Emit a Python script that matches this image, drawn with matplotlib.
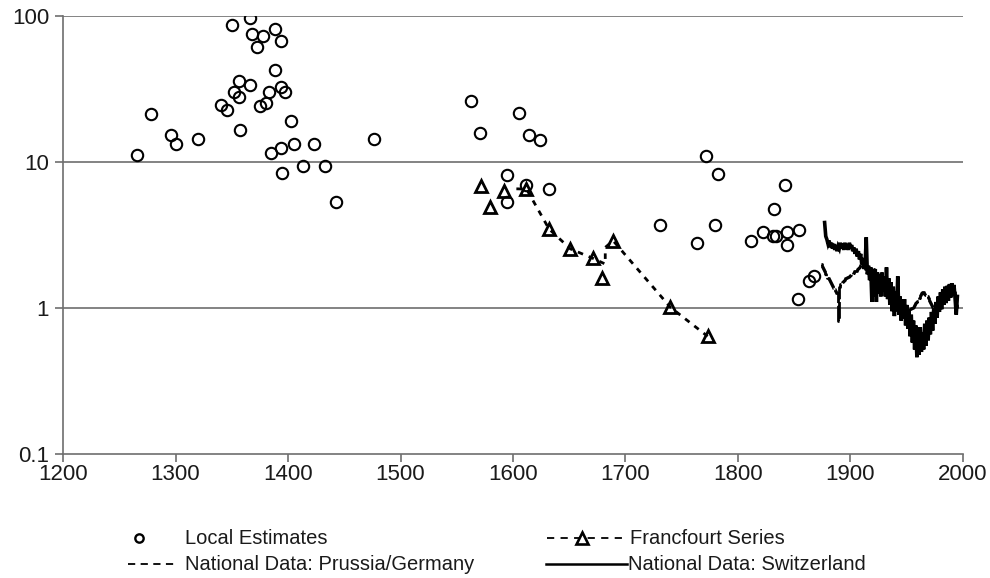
import numpy as np
import matplotlib
matplotlib.use("Agg")
import matplotlib.pyplot as plt
from matplotlib.lines import Line2D

plt.rcParams['font.family'] = ['Liberation Sans', 'DejaVu Sans']

# ---------------- data ----------------
local_years = [1266, 1278, 1296, 1300, 1320, 1340, 1346, 1350, 1352, 1356, 1356, 1357,
               1366, 1366, 1368, 1372, 1375, 1378, 1380, 1383, 1385, 1388, 1388, 1394,
               1394, 1394, 1395, 1397, 1403, 1405, 1413, 1423, 1433, 1443, 1476,
               1563, 1571, 1595, 1595, 1605, 1612, 1614, 1624, 1632,
               1731, 1764, 1772, 1780, 1782, 1812, 1822, 1831, 1832, 1834, 1842,
               1844, 1844, 1853, 1854, 1863, 1868]
local_values = [11.2, 21.3, 15.4, 13.3, 14.4, 24.6, 22.8, 87, 30.3, 36, 28, 16.6,
                97, 33.5, 75.6, 61, 24.3, 73, 25.4, 30.3, 11.6, 81, 43, 67,
                32.5, 12.4, 8.45, 30.3, 19.1, 13.3, 9.4, 13.3, 9.4, 5.3, 14.3,
                26, 15.9, 8.1, 5.3, 21.8, 6.95, 15.3, 14.2, 6.56,
                3.72, 2.8, 11.0, 3.72, 8.3, 2.89, 3.32, 3.13, 4.76, 3.1, 6.95,
                3.33, 2.7, 1.15, 3.44, 1.54, 1.66]

frank_years = [1572, 1580, 1592, 1612, 1632, 1651, 1671, 1679, 1689, 1740, 1773]
frank_values = [6.82, 4.94, 6.3, 6.53, 3.48, 2.54, 2.19, 1.6, 2.89, 1.01, 0.64]

frank_line_years = [1603, 1612, 1632, 1651, 1671, 1682, 1682, 1689, 1740, 1773]
frank_line_values = [6.55, 6.53, 3.48, 2.54, 2.19, 2.0, 2.6, 2.89, 1.01, 0.64]

swiss_years = list(range(1877, 1996))
swiss_values = [3.85, 3.1, 2.95, 2.75, 2.9, 2.6, 2.8, 2.55, 2.75, 2.5,
                2.7, 2.45, 2.65, 2.55, 2.8, 2.55, 2.75, 2.5, 2.8, 2.55,
                2.7, 2.5, 2.8, 2.55, 2.7, 2.45, 2.6, 2.35, 2.55, 2.25,
                2.45, 2.15, 2.35, 2.0, 2.2, 1.85, 2.0, 3.05, 1.7, 1.95,
                1.55, 1.9, 1.1, 1.8, 1.2, 1.85, 1.1, 1.75, 1.25, 1.7,
                1.2, 1.75, 1.3, 1.65, 1.2, 1.9, 1.15, 1.6, 1.05, 1.5,
                0.95, 1.4, 0.88, 1.3, 0.95, 1.65, 0.9, 1.2, 0.82, 1.15,
                0.85, 1.15, 0.76, 1.05, 0.72, 0.98, 0.64, 0.9, 0.58, 0.82,
                0.52, 0.76, 0.46, 0.7, 0.48, 0.74, 0.5, 0.68, 0.52, 0.78,
                0.55, 0.82, 0.6, 0.86, 0.66, 0.94, 0.7, 1.0, 0.78, 1.1,
                0.86, 1.2, 0.94, 1.28, 0.98, 1.34, 1.05, 1.4, 1.08, 1.42,
                1.12, 1.46, 1.18, 1.48, 1.22, 1.44, 1.15, 0.9, 1.2]

germany_years = list(range(1874, 1914)) + [1930] + list(range(1950, 1996))
germany_values = ([2.0, 1.92, 1.85, 1.78, 1.72, 1.66, 1.6, 1.55, 1.5, 1.46,
                   1.42, 1.38, 1.34, 1.3, 1.26, 0.82, 1.4, 1.45, 1.48, 1.5,
                   1.54, 1.56, 1.6, 1.62, 1.64, 1.66, 1.68, 1.7, 1.72, 1.75,
                   1.78, 1.8, 1.84, 1.88, 1.92, 1.98, 2.05, 2.0, 1.92, 1.85]
                  + [np.nan]
                  + [1.0, 0.98, 0.96, 0.98, 1.0, 1.0, 1.02, 1.05, 1.08, 1.1,
                     1.12, 1.18, 1.22, 1.26, 1.28, 1.28, 1.25, 1.22, 1.2, 1.18,
                     1.12, 1.08, 1.05, 1.02, 1.0, 1.0, 1.0, 1.0, 1.02, 1.1,
                     1.18, 1.25, 1.25, 1.2, 1.15, 1.15, 1.2, 1.25, 1.22, 1.2,
                     1.25, 1.3, 1.28, 1.15, 1.05, 1.0])

x_ticks = [1200, 1300, 1400, 1500, 1600, 1700, 1800, 1900, 2000]
y_ticks = [0.1, 1, 10, 100]
y_tick_labels = ['0.1', '1', '10', '100']

legend_labels = ['Local Estimates', 'Francfourt Series',
                 'National Data: Prussia/Germany', 'National Data: Switzerland']

# ---------------- figure ----------------
W, H = 990, 578
fig = plt.figure(figsize=(W / 100, H / 100), dpi=100)
ax = fig.add_axes([63 / W, 1 - 454 / H, (963 - 63) / W, (454 - 16) / H])

grid_c = '#6e6e6e'
ax.set_yscale('log')
ax.set_xlim(1200, 2000)
ax.set_ylim(0.1, 100)

for v in [1, 10, 100]:
    ax.axhline(v, color=grid_c, lw=1.2, zorder=1)

ax.plot(germany_years, germany_values, color='black', lw=2.0,
        linestyle=(0, (6, 1)), drawstyle='steps-mid', zorder=3)
ax.plot(swiss_years, swiss_values, color='black', lw=2.6, zorder=3,
        solid_joinstyle='miter')

ax.plot(frank_line_years, frank_line_values, color='black', lw=2.0,
        linestyle=(0, (2.0, 2.2)), zorder=3)

ax.plot(local_years, local_values, linestyle='none', marker='o', ms=8.2,
        mfc='none', mec='black', mew=1.5, zorder=4)
ax.plot(frank_years, frank_values, linestyle='none', marker='^', ms=9,
        mfc='none', mec='black', mew=2.0, zorder=5)

for s in ['top', 'right']:
    ax.spines[s].set_visible(False)
ax.spines['left'].set_color(grid_c)
ax.spines['bottom'].set_color(grid_c)
ax.spines['left'].set_linewidth(1.2)
ax.spines['bottom'].set_linewidth(1.2)

ax.set_xticks(x_ticks)
ax.set_xticklabels([str(t) for t in x_ticks])
ax.set_yticks(y_ticks)
ax.set_yticklabels(y_tick_labels)
ax.minorticks_off()
ax.tick_params(axis='both', direction='out', length=6, width=1.2, color=grid_c,
               labelsize=16, labelcolor='#1a1a1a')
ax.tick_params(axis='x', pad=1)
ax.tick_params(axis='y', pad=4)

# ---------------- legend (drawn in figure pixel coordinates) ----------------
def fx(px):
    return px / W

def fy(py):
    return 1 - py / H

lab_kw = dict(fontsize=14.5, va='center', ha='left', color='#1a1a1a')
r1, r2 = 538, 564

# Local Estimates
fig.add_artist(Line2D([fx(139)], [fy(r1)], marker='o', ms=6, mfc='none',
                      mec='black', mew=1.7, linestyle='none'))
fig.text(fx(185), fy(r1), legend_labels[0], **lab_kw)

# Prussia/Germany
fig.add_artist(Line2D([fx(128), fx(177)], [fy(r2), fy(r2)], color='black',
                      lw=1.3, linestyle=(0, (4, 3))))
fig.text(fx(185), fy(r2), legend_labels[2], **lab_kw)

# Francfourt
fig.add_artist(Line2D([fx(547), fx(626)], [fy(r1), fy(r1)], color='black',
                      lw=1.3, linestyle=(0, (4, 3.5))))
fig.add_artist(Line2D([fx(582)], [fy(r1)], marker='^', ms=8, mfc='white',
                      mec='black', mew=1.9, linestyle='none'))
fig.text(fx(630), fy(r1), legend_labels[1], **lab_kw)

# Switzerland
fig.add_artist(Line2D([fx(546), fx(627)], [fy(r2), fy(r2)], color='black',
                      lw=1.8))
fig.text(fx(628), fy(r2), legend_labels[3], **lab_kw)

fig.savefig('out.png', dpi=100)
